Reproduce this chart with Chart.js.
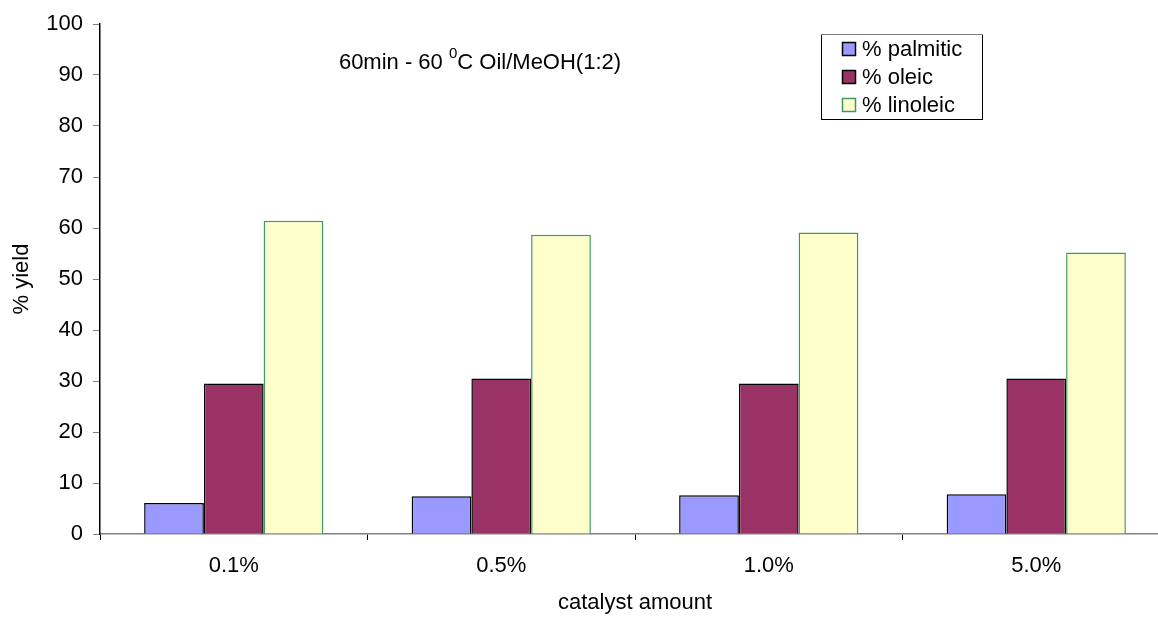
<!DOCTYPE html>
<html>
<head>
<meta charset="utf-8">
<script src="https://cdn.jsdelivr.net/npm/chart.js@4.4.1/dist/chart.umd.min.js"></script>
<style>
html, body { margin: 0; padding: 0; background: #fff; overflow: hidden; }
#wrap { width: 1158px; height: 617px; overflow: hidden; }
</style>
</head>
<body>
<div id="wrap"><canvas id="chart" width="1180" height="617"></canvas></div>
<script>
const categories = ['0.1%', '0.5%', '1.0%', '5.0%'];
const palmitic = [6.1, 7.4, 7.6, 7.8];
const oleic = [29.5, 30.5, 29.5, 30.5];
const linoleic = [61.4, 58.7, 59.1, 55.2];
const seriesNames = ['% palmitic', '% oleic', '% linoleic'];

const FONT = '"Liberation Sans", Arial, sans-serif';
const FS = 22;

// title text with the superscript degree
const titlePlugin = {
  id: 'noteTitle',
  afterDraw(chart) {
    const ctx = chart.ctx;
    ctx.save();
    ctx.fillStyle = '#000';
    ctx.textBaseline = 'middle';
    const big = FS + 'px ' + FONT, small = '15px ' + FONT;
    const a = '60min - 60 ', b = '0', c = 'C Oil/MeOH(1:2)';
    ctx.font = big;
    const wa = ctx.measureText(a).width, wc = ctx.measureText(c).width;
    ctx.font = small;
    const wb = ctx.measureText(b).width;
    let x = 480 - (wa + wb + wc) / 2;
    const y = 63;
    ctx.font = big; ctx.fillText(a, x, y); x += wa;
    ctx.font = small; ctx.fillText(b, x, y - 9); x += wb;
    ctx.font = big; ctx.fillText(c, x, y);
    ctx.restore();
  }
};

// legend box drawn inside the plot
const legendPlugin = {
  id: 'boxLegend',
  afterDraw(chart) {
    const ctx = chart.ctx;
    ctx.save();
    ctx.fillStyle = '#fff';
    ctx.fillRect(821, 34, 162, 85);
    ctx.strokeStyle = '#000';
    ctx.lineWidth = 1;
    ctx.strokeRect(821.5, 34.5, 161, 85);
    ctx.strokeStyle = '#808080';
    ctx.beginPath(); ctx.moveTo(821, 34.5); ctx.lineTo(983, 34.5); ctx.stroke();
    ctx.font = FS + 'px ' + FONT;
    ctx.textBaseline = 'middle';
    chart.data.datasets.forEach((ds, i) => {
      const y = 49 + i * 28;
      ctx.fillStyle = ds.backgroundColor;
      ctx.fillRect(842, y - 7, 14, 14);
      ctx.strokeStyle = ds.borderColor;
      ctx.lineWidth = 1.5;
      ctx.strokeRect(842.5, y - 6.5, 13, 13);
      ctx.fillStyle = '#000';
      ctx.fillText(ds.label, 862, y + 1);
    });
    ctx.restore();
  }
};

const ctx = document.getElementById('chart').getContext('2d');
new Chart(ctx, {
  type: 'bar',
  data: {
    labels: categories,
    datasets: [{
      label: seriesNames[0],
      data: palmitic,
      backgroundColor: '#9999FF',
      borderColor: '#000',
      borderWidth: 1.5
    }, {
      label: seriesNames[1],
      data: oleic,
      backgroundColor: '#993366',
      borderColor: '#000',
      borderWidth: 1.5
    }, {
      label: seriesNames[2],
      data: linoleic,
      backgroundColor: '#FFFFCC',
      borderColor: '#3c9a60',
      borderWidth: 1.5
    }]
  },
  options: {
    responsive: false,
    animation: false,
    layout: { padding: { top: 24, right: 10, left: 0, bottom: 0 } },
    plugins: {
      legend: { display: false },
      tooltip: { enabled: false }
    },
    datasets: {
      bar: { categoryPercentage: 0.67, barPercentage: 1.0 }
    },
    scales: {
      x: {
        grid: { drawOnChartArea: false, color: '#000', tickLength: 6, offset: true },
        border: { color: '#808080', width: 1.5 },
        ticks: { color: '#000', font: { family: FONT, size: FS }, padding: 13 },
        title: { display: true, text: 'catalyst amount', color: '#000', font: { family: FONT, size: FS }, padding: { top: 0, bottom: 1 } },
        afterFit(scale) { scale.height = 83; }
      },
      y: {
        min: 0,
        max: 100,
        ticks: { stepSize: 10, color: '#000', font: { family: FONT, size: FS }, padding: 10 },
        grid: { drawOnChartArea: false, color: '#808080', tickLength: 7 },
        border: { color: '#000', width: 1.5 },
        title: { display: true, text: '% yield', color: '#000', font: { family: FONT, size: FS }, padding: { top: 9, bottom: 0 } },
        afterFit(scale) { scale.width = 100; }
      }
    }
  },
  plugins: [titlePlugin, legendPlugin]
});
</script>
</body>
</html>
